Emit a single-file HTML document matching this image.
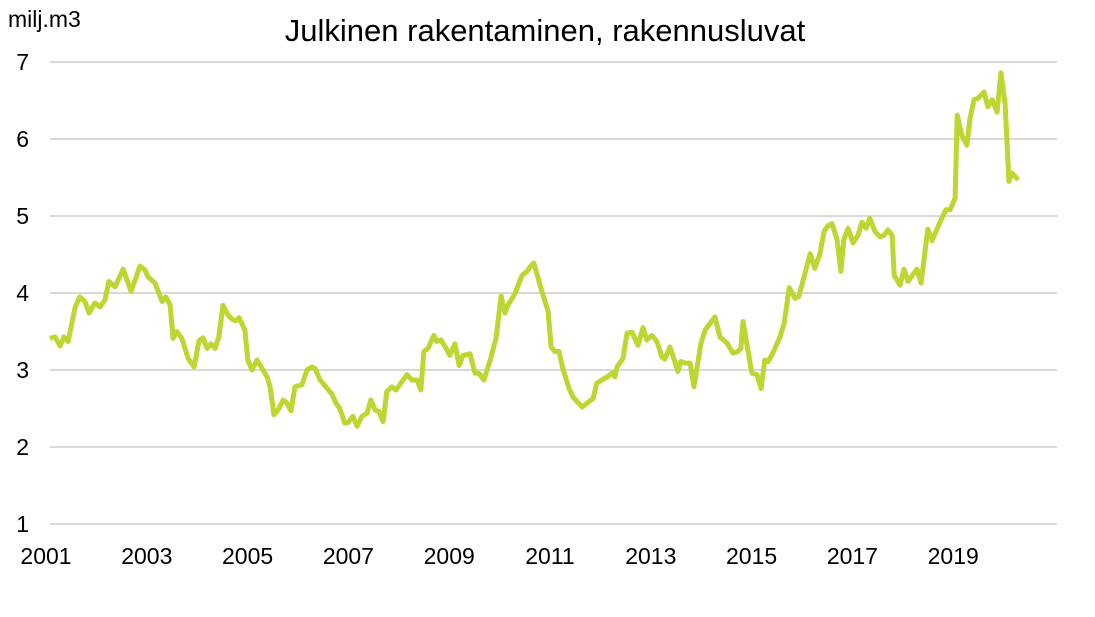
<!DOCTYPE html>
<html><head><meta charset="utf-8"><style>
body{margin:0;background:#fff;}
svg{display:block;font-family:"Liberation Sans",Arial,sans-serif;}
</style></head><body>
<svg width="1095" height="617" viewBox="0 0 1095 617">
<rect width="1095" height="617" fill="#fff"/>
<text x="545" y="41" font-size="31" text-anchor="middle" fill="#000">Julkinen rakentaminen, rakennusluvat</text>
<text x="8" y="27" font-size="23" fill="#000">milj.m3</text>
<g id="grid"></g><g id="ylabels"></g><g id="xlabels"></g><g id="series"></g>
</svg>
<script>
// month index from Jan 2001
const months=[0,1.2,2.4,3.3,4.3,6.0,7.1,8.3,9.3,10.7,11.9,13.1,14.0,15.5,17.4,19.3,21.4,22.6,23.3,25.0,26.7,27.6,28.6,29.3,30.2,31.4,32.9,34.3,35.5,36.4,37.4,38.3,39.3,40.2,41.2,42.4,43.6,44.3,45.0,46.4,47.1,48.1,49.3,50.5,51.7,52.4,53.3,54.3,55.5,56.4,57.4,58.3,60.0,61.2,62.4,63.1,64.3,66.0,67.1,68.1,69.0,70.2,71.0,72.1,73.1,74.3,75.5,76.4,77.4,78.3,79.3,80.2,81.4,82.4,83.8,85.0,86.2,87.4,88.3,89.0,90.0,91.4,92.1,93.1,94.3,95.2,96.4,97.4,98.3,100.0,101.2,102.1,103.3,104.8,106.2,107.4,108.3,109.0,110.7,112.4,113.6,114.3,115.2,116.7,118.6,119.3,120.2,121.2,122.1,123.6,124.5,126.7,127.9,129.3,130.2,131.4,132.9,133.8,134.5,135.0,136.4,137.4,138.6,140.0,141.2,142.1,143.3,144.5,145.7,146.4,147.6,148.3,149.5,150.2,151.2,152.4,153.3,155.0,156.0,158.3,159.5,161.2,162.6,163.8,164.5,165.0,167.1,168.3,169.3,170.2,171.0,172.1,173.8,174.8,176.0,177.4,178.3,181.0,182.1,183.3,184.3,185.2,186.2,187.4,188.3,189.0,190.0,191.2,192.4,193.3,194.3,195.2,196.4,197.6,198.6,199.5,200.5,201.0,202.4,203.3,204.3,206.4,207.4,209.0,210.0,211.9,213.3,214.3,215.5,216.0,217.1,218.3,219.0,220.0,221.0,222.4,223.3,224.3,225.5,226.4,227.4,228.3,229.0,230.5];
const values=[3.41,3.43,3.31,3.43,3.37,3.82,3.95,3.89,3.74,3.87,3.82,3.91,4.15,4.08,4.31,4.02,4.35,4.30,4.21,4.13,3.89,3.95,3.84,3.41,3.50,3.41,3.15,3.04,3.38,3.42,3.28,3.34,3.28,3.43,3.84,3.71,3.65,3.64,3.68,3.52,3.13,3.00,3.13,3.02,2.91,2.78,2.42,2.48,2.61,2.57,2.47,2.78,2.81,3.00,3.04,3.02,2.87,2.76,2.69,2.57,2.50,2.31,2.32,2.40,2.27,2.40,2.44,2.61,2.48,2.46,2.33,2.72,2.78,2.74,2.85,2.94,2.87,2.87,2.74,3.24,3.28,3.45,3.37,3.39,3.28,3.19,3.34,3.06,3.19,3.21,2.96,2.96,2.87,3.13,3.41,3.96,3.74,3.84,3.99,4.23,4.28,4.34,4.39,4.10,3.76,3.30,3.24,3.24,3.02,2.76,2.65,2.52,2.57,2.63,2.83,2.87,2.92,2.96,2.91,3.04,3.15,3.48,3.49,3.32,3.55,3.39,3.45,3.37,3.17,3.14,3.30,3.19,2.98,3.11,3.09,3.09,2.78,3.35,3.52,3.69,3.43,3.35,3.22,3.24,3.28,3.63,2.96,2.94,2.76,3.13,3.11,3.22,3.43,3.61,4.07,3.93,3.96,4.51,4.32,4.51,4.80,4.87,4.90,4.69,4.28,4.69,4.84,4.65,4.75,4.92,4.84,4.97,4.80,4.73,4.75,4.82,4.75,4.23,4.10,4.31,4.15,4.31,4.13,4.83,4.68,4.92,5.08,5.08,5.23,6.31,6.05,5.92,6.25,6.51,6.53,6.61,6.42,6.51,6.35,6.86,6.46,5.45,5.56,5.47];
const yTicks=[1,2,3,4,5,6,7];
const xTickLabels=["2001","2003","2005","2007","2009","2011","2013","2015","2017","2019"];
const NS="http://www.w3.org/2000/svg";
const X0=50,PX_PER_MONTH=4.2;
function xScale(m){return X0+m*PX_PER_MONTH;}
function yScale(v){return 524-(v-1)*77;}
const grid=document.getElementById('grid'),yl=document.getElementById('ylabels'),xl=document.getElementById('xlabels'),ser=document.getElementById('series');
yTicks.forEach(t=>{
 const l=document.createElementNS(NS,'line');
 l.setAttribute('x1',50);l.setAttribute('x2',1057);l.setAttribute('y1',yScale(t));l.setAttribute('y2',yScale(t));
 l.setAttribute('stroke','#d9d9d9');l.setAttribute('stroke-width','2');
 
 
 grid.appendChild(l);
 const tx=document.createElementNS(NS,'text');
 tx.setAttribute('x',29);tx.setAttribute('y',yScale(t)+8);tx.setAttribute('text-anchor','end');tx.setAttribute('font-size','23');
 tx.textContent=t;
 
 
 yl.appendChild(tx);
});
xTickLabels.forEach(s=>{
 const m=(parseInt(s)-2001)*12;
 const tx=document.createElementNS(NS,'text');
 tx.setAttribute('x',xScale(m)-4);tx.setAttribute('y',564);tx.setAttribute('text-anchor','middle');tx.setAttribute('font-size','23');
 tx.textContent=s;
 
 
 xl.appendChild(tx);
});
const p=document.createElementNS(NS,'polyline');
p.setAttribute('points',months.map((m,i)=>xScale(m).toFixed(1)+','+yScale(values[i]).toFixed(1)).join(' '));
p.setAttribute('fill','none');p.setAttribute('stroke','#bdd631');p.setAttribute('stroke-width','5');p.setAttribute('stroke-linejoin','round');


ser.appendChild(p);
</script>
</body></html>
